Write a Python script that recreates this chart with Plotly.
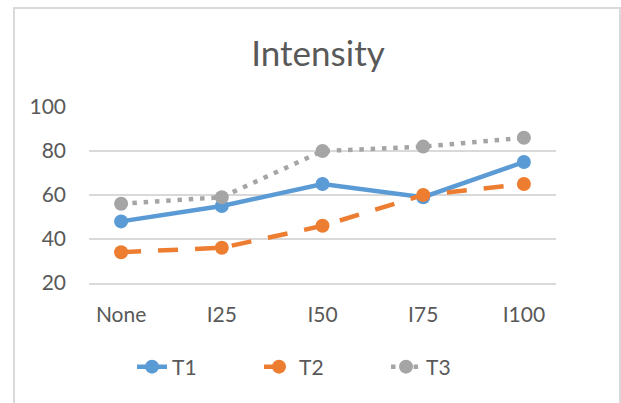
import plotly.graph_objects as go

categories = ["None", "I25", "I50", "I75", "I100"]
t1 = [48, 55, 65, 59, 75]
t2 = [34, 36, 46, 60, 65]
t3 = [56, 59, 80, 82, 86]
y_ticks = [20, 40, 60, 80, 100]

W, H = 621, 403
L, R, T, B = 89, 65, 107, 120

fig = go.Figure()

series = [
    ("T1", t1, "#5B9BD5", "solid"),
    ("T2", t2, "#ED7D31", "20px,17px"),
    ("T3", t3, "#A5A5A5", "4.5px,6.8px"),
]
for name, vals, color, dash in series:
    fig.add_trace(go.Scatter(
        x=categories, y=vals, name=name, mode="lines+markers",
        line=dict(color=color, width=4.5, dash=dash),
        marker=dict(color=color, size=14, line=dict(width=0)),
        cliponaxis=False,
    ))

# light grey chart-area border (runs past the bottom of the picture)
pw, ph = W - L - R, H - T - B
fig.add_shape(
    type="rect", xref="paper", yref="paper",
    x0=(14 - L) / pw, x1=(620 - L) / pw,
    y0=(H - B - 420) / ph, y1=(H - B - 8) / ph,
    line=dict(color="#d9d9d9", width=2), fillcolor="rgba(0,0,0,0)", layer="below",
)

font = "Lato, 'Open Sans', sans-serif"
fig.update_layout(
    width=W, height=H,
    margin=dict(l=L, r=R, t=T, b=B),
    paper_bgcolor="white", plot_bgcolor="white",
    font=dict(family=font, color="#595959", size=21),
    title=dict(text="Intensity", x=318 / W, xref="container", xanchor="center",
               y=1 - 54 / H, yref="container", yanchor="middle",
               font=dict(size=35, color="#595959")),
    showlegend=True,
    legend=dict(orientation="h", x=0.5, xanchor="center",
                y=(H - B - 367) / ph, yanchor="middle",
                font=dict(size=21), entrywidth=82, entrywidthmode="pixels"),
    xaxis=dict(showgrid=False, showline=True, linecolor="#d9d9d9", linewidth=1.5,
               ticks="", ticklabelstandoff=12, tickfont=dict(size=21)),
    yaxis=dict(range=[20, 100], tickvals=y_ticks, showgrid=True,
               gridcolor="#d9d9d9", gridwidth=1.5, zeroline=False,
               ticks="", ticklabelstandoff=22, tickfont=dict(size=21)),
)

fig.write_html("out.html", config={"displayModeBar": False},
               post_script="document.body.style.margin='0';")
